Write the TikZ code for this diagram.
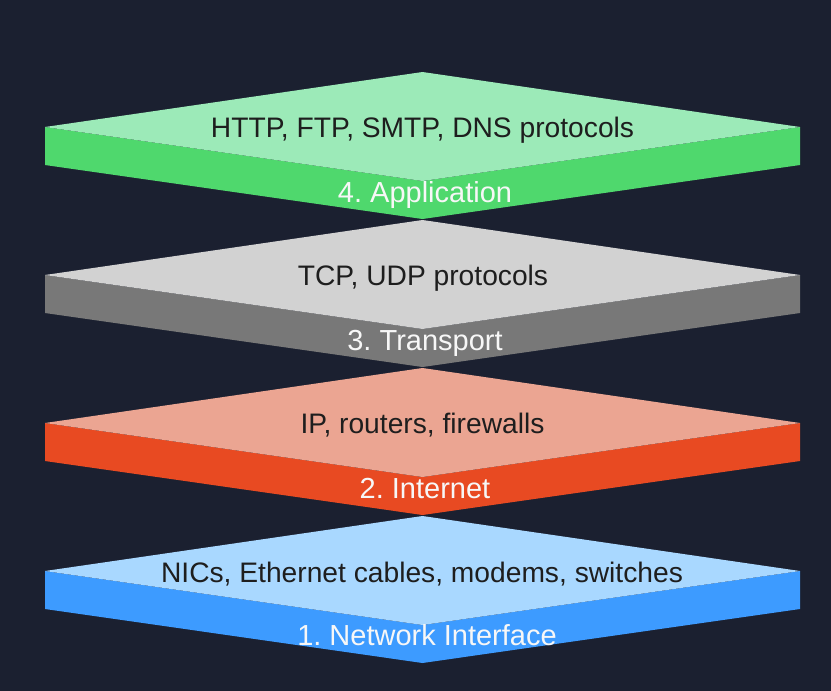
\documentclass[tikz,border=0pt]{standalone}
\usepackage{fontspec}
\setmainfont{Liberation Sans}
\definecolor{bg}{HTML}{1B2030}
\definecolor{gtop}{HTML}{9CEAB8}
\definecolor{gside}{HTML}{4FD86D}
\definecolor{ktop}{HTML}{D2D2D2}
\definecolor{kside}{HTML}{787878}
\definecolor{rtop}{HTML}{EBA592}
\definecolor{rside}{HTML}{E84A22}
\definecolor{btop}{HTML}{A9D8FF}
\definecolor{bside}{HTML}{3D9BFF}
\definecolor{desc}{HTML}{1E1E1E}
\definecolor{lab}{HTML}{F7F7F7}
\tikzset{
  desctext/.style={anchor=base, inner sep=0pt, text=desc, font=\fontsize{28.2}{33}\selectfont},
  labtext/.style={anchor=base, inner sep=0pt, text=lab, font=\fontsize{29}{34}\selectfont},
}
\newcommand{\layerslab}[3]{%
  % #1 yL, #2 top colour, #3 side colour
  \fill[#3] (45,#1) -- (45,#1+38) -- (422.5,#1+92) -- (800,#1+38) -- (800,#1) -- (422.5,#1+54) -- cycle;
  \fill[#2] (45,#1) -- (422.5,#1-55) -- (800,#1) -- (422.5,#1+54) -- cycle;
}
\begin{document}
\begin{tikzpicture}[x=1pt,y=-1pt]
\fill[bg] (0,0) rectangle (831,691);
\useasboundingbox (0,0) rectangle (831,691);
\layerslab{571}{btop}{bside}
\layerslab{423}{rtop}{rside}
\layerslab{275}{ktop}{kside}
\layerslab{127}{gtop}{gside}
\node[desctext] (d4) at (422.5,137) {HTTP, FTP, SMTP, DNS protocols};
\node[labtext] (l4) at (425,202) {4.\ Application};
\node[desctext] (d3) at (423,285) {TCP, UDP protocols};
\node[labtext] (l3) at (425,350) {3.\ Transport};
\node[desctext] (d2) at (422.5,433) {IP, routers, firewalls};
\node[labtext] (l2) at (425,498) {2.\ Internet};
\node[desctext] (d1) at (422,582) {NICs, Ethernet cables, modems, switches};
\node[labtext] (l1) at (427,645) {1.\ Network Interface};
\end{tikzpicture}
\end{document}
